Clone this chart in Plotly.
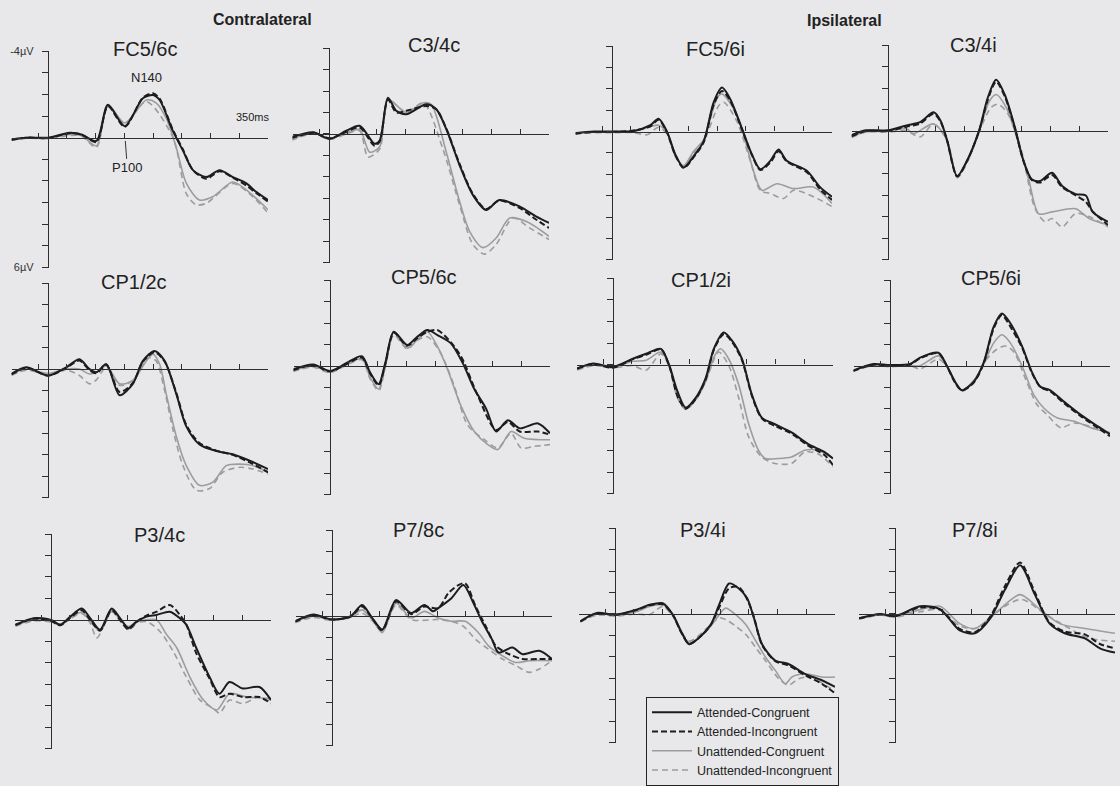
import plotly.graph_objects as go

# ---------------- data: time (ms) and amplitude (uV, negative up) ----------------
CONDITIONS = ["Attended-Congruent", "Attended-Incongruent", "Unattended-Congruent", "Unattended-Incongruent"]
PANEL_NAMES = ["FC5/6c", "C3/4c", "FC5/6i", "C3/4i",
               "CP1/2c", "CP5/6c", "CP1/2i", "CP5/6i",
               "P3/4c", "P7/8c", "P3/4i", "P7/8i"]
Y_TICKS = [-4, -3, -2, -1, 0, 1, 2, 3, 4, 5, 6]
Y_TICK_LABELS = ["-4µV", "", "", "", "", "", "", "", "", "", "6µV"]
X_LABEL = "350ms"

# FC5/6c
FC56c_AC_t = [-58, -34.5, 0, 34.5, 53, 77, 95.4, 122, 151, 167, 177.6, 198.8, 214.7, 230.6, 251.8, 273, 294, 315, 331, 350]
FC56c_AC_v = [0.08, 0, 0, -0.23, -0.15, 0.15, -1.52, -0.53, -1.82, -1.97, -1.74, -0.3, 0.6, 1.5, 1.82, 1.5, 1.82, 2.1, 2.5, 2.88]
FC56c_AI_t = [-58, -34.5, 0, 34.5, 53, 77, 95.4, 122, 151, 167, 177.6, 198.8, 214.7, 230.6, 251.8, 273, 294, 315, 331, 350]
FC56c_AI_v = [0.1, 0, 0.02, -0.2, -0.15, 0.2, -1.45, -0.5, -1.85, -2.05, -1.8, -0.35, 0.55, 1.5, 1.9, 1.55, 1.85, 2.2, 2.55, 2.95]
FC56c_UC_t = [-58, -34.5, 0, 34.5, 53, 77, 95.4, 122, 156.4, 172.3, 188, 204, 220, 241, 262, 294, 315, 350]
FC56c_UC_v = [0.1, 0.02, 0.02, -0.15, -0.1, 0.38, -1.52, -0.68, -1.74, -1.6, -0.9, 0.45, 2.1, 2.88, 2.73, 2.05, 2.4, 3.33]
FC56c_UI_t = [-58, -34.5, 0, 34.5, 53, 77, 95.4, 122, 156.4, 198.8, 220, 235.5, 252, 294, 326, 350]
FC56c_UI_v = [0.12, 0.02, 0.05, -0.1, -0.08, 0.45, -1.45, -0.65, -1.67, 0, 2.58, 3.1, 3.03, 2.12, 2.73, 3.48]

# C3/4c
C34c_AC_t = [-60, -25, 1, 27.6, 48.8, 72.6, 80.6, 93.8, 107, 123, 154.8, 170.7, 186.6, 207.8, 229, 250, 271, 303, 330, 350]
C34c_AC_v = [0.15, -0.08, 0.23, -0.15, -0.38, 0.46, 0.31, -1.69, -1.08, -0.92, -1.38, -1.15, -0.23, 1.46, 2.85, 3.54, 3.08, 3.38, 3.85, 4.15]
C34c_AI_t = [-60, -25, 1, 27.6, 48.8, 72.6, 80.6, 93.8, 107, 123, 154.8, 170.7, 186.6, 207.8, 229, 250, 271, 303, 330, 350]
C34c_AI_v = [0.2, -0.05, 0.2, -0.1, -0.3, 0.55, 0.35, -1.6, -1.0, -1.08, -1.3, -1.15, -0.25, 1.4, 2.8, 3.5, 3.1, 3.45, 4.0, 4.38]
C34c_UC_t = [-60, -25, 1, 27.6, 48.8, 64.7, 80.6, 93.8, 123, 150, 162.6, 186.6, 207.8, 223.7, 245, 266, 287.5, 314, 350]
C34c_UC_v = [0.25, -0.05, 0.2, -0.05, -0.2, 0.85, 0.6, -1.6, -1.0, -1.45, -1.38, 0.85, 3.15, 4.54, 5.3, 4.85, 3.92, 4.08, 4.77]
C34c_UI_t = [-60, -25, 1, 27.6, 48.8, 62, 80.6, 93.8, 123, 150, 181, 207.8, 229, 247.6, 266, 292.6, 319, 350]
C34c_UI_v = [0.3, 0, 0.25, 0, -0.15, 1.08, 0.7, -1.6, -1.0, -1.45, 0.69, 3.31, 5.15, 5.6, 5.15, 3.92, 4.38, 4.92]

# FC5/6i
FC56i_AC_t = [-58.3, -29, 0, 34.5, 61, 74, 87.5, 100.7, 114, 129.9, 145.8, 161.7, 175, 188, 206.7, 222.6, 236, 251.8, 265, 278, 310, 331, 350]
FC56i_AC_v = [0.08, 0, 0, -0.03, -0.3, -0.6, 0, 1.07, 1.68, 1.15, 0.46, -1.37, -2.06, -1.53, -0.15, 1.07, 1.76, 1.37, 0.84, 1.37, 1.83, 2.6, 3.05]
FC56i_AI_t = [-58.3, -29, 0, 34.5, 61, 74, 87.5, 100.7, 114, 129.9, 145.8, 161.7, 175, 188, 206.7, 222.6, 236, 251.8, 265, 278, 310, 331, 350]
FC56i_AI_v = [0.1, 0.02, 0.02, -0.05, -0.25, -0.55, 0.05, 1.1, 1.7, 1.2, 0.5, -1.25, -1.9, -1.45, -0.1, 1.1, 1.8, 1.45, 0.92, 1.4, 1.9, 2.7, 3.2]
FC56i_UC_t = [-58.3, -29, 0, 34.5, 61, 74, 87.5, 100.7, 114, 129.9, 145.8, 167.5, 175, 193.5, 209.4, 225, 238.5, 262.5, 289, 320.6, 350]
FC56i_UC_v = [0.05, 0.02, 0.02, 0, -0.23, -0.3, 0.05, 1.15, 1.6, 0.92, 0.38, -1.6, -1.76, -1.07, 0.15, 1.83, 2.75, 2.44, 2.67, 2.6, 3.36]
FC56i_UI_t = [-58.3, -29, 0, 34.5, 55.7, 74, 87.5, 100.7, 114, 129.9, 145.8, 170, 178, 199, 220, 236, 251.8, 273, 289, 320.6, 350]
FC56i_UI_v = [0.1, 0.05, 0.05, 0.05, 0.15, -0.2, 0.1, 1.15, 1.6, 1.0, 0.46, -1.22, -1.37, -0.46, 1.37, 2.75, 2.9, 3.13, 2.75, 3.05, 3.51]

# C3/4i
C34i_AC_t = [-58, -35, 0, 29.6, 51, 72.6, 83.4, 94, 110, 126.4, 145, 158.7, 172, 185.6, 201.8, 215, 228.7, 242, 261, 277, 298.6, 314.7, 325.5, 350]
C34i_AC_v = [0.2, -0.03, -0.03, -0.26, -0.41, -0.87, -0.49, 0.43, 2.1, 1.34, -0.03, -1.55, -2.39, -1.7, -0.18, 1.34, 2.25, 2.33, 1.95, 2.56, 2.94, 3.01, 3.77, 4.23]
C34i_AI_t = [-58, -35, 0, 29.6, 51, 72.6, 83.4, 94, 110, 126.4, 145, 158.7, 172, 185.6, 201.8, 215, 228.7, 242, 261, 277, 298.6, 314.7, 325.5, 350]
C34i_AI_v = [0.25, 0, 0, -0.2, -0.35, -0.8, -0.45, 0.45, 2.12, 1.36, 0, -1.45, -2.3, -1.62, -0.12, 1.36, 2.28, 2.4, 2.05, 2.62, 3.0, 3.3, 3.75, 4.38]
C34i_UC_t = [-58, -35, 0, 29.6, 40.4, 72.6, 94, 110, 126.4, 145, 161.4, 172, 188, 207.8, 223.8, 240, 261, 298.6, 320, 350]
C34i_UC_v = [0.25, 0.05, 0, -0.1, 0.12, -0.33, 0.43, 2.1, 1.4, 0, -1.4, -1.7, -1.1, 0.58, 2.25, 3.86, 3.77, 3.62, 4.08, 4.38]
C34i_UI_t = [-58, -35, 0, 29.6, 51.2, 72.6, 94, 110, 126.4, 145, 164, 175, 191, 212, 234, 250, 261, 277, 298.6, 320, 350]
C34i_UI_v = [0.3, 0.05, 0.05, 0, 0.28, -0.33, 0.45, 2.18, 1.45, 0.05, -1.1, -1.25, -0.79, 0.88, 3.62, 4.23, 4.08, 4.47, 3.84, 3.99, 4.47]

# CP1/2c
CP12c_AC_t = [-58.3, -34.5, 0, 29, 50, 66, 77, 92.8, 114, 135, 151, 169.6, 185.5, 204, 220, 241, 267.7, 294, 320.7, 350]
CP12c_AC_v = [0.23, -0.08, 0.31, -0.08, -0.46, 0, 0.15, -0.23, 1.22, 0.69, -0.38, -0.84, -0.38, 1.15, 2.67, 3.51, 3.82, 3.97, 4.27, 4.66]
CP12c_AI_t = [-58.3, -34.5, 0, 29, 50, 66, 77, 92.8, 114, 135, 151, 169.6, 185.5, 204, 220, 241, 267.7, 294, 320.7, 350]
CP12c_AI_v = [0.25, -0.05, 0.3, -0.05, -0.4, 0.05, 0.2, -0.2, 1.07, 0.65, -0.35, -0.78, -0.35, 1.1, 2.6, 3.45, 3.8, 4.0, 4.35, 4.81]
CP12c_UC_t = [-58.3, -34.5, 0, 29, 50, 66, 77, 92.8, 114, 135, 156.4, 167, 177.6, 188, 204, 220, 241, 262.4, 283.6, 305, 326, 350]
CP12c_UC_v = [0.25, 0, 0.2, 0, 0, 0.23, 0.15, -0.15, 0.69, 0.53, -0.38, -0.69, -0.23, 1.15, 3.13, 4.5, 5.42, 5.27, 4.5, 4.43, 4.5, 4.81]
CP12c_UI_t = [-58.3, -34.5, 0, 29, 50, 66, 77, 92.8, 114, 135, 159, 172, 185.5, 198.8, 214.7, 236, 257, 278, 305, 326, 350]
CP12c_UI_v = [0.3, 0.05, 0.25, 0.05, 0.3, 0.69, 0.5, -0.08, 0.76, 0.53, -0.53, -0.38, 1.0, 2.82, 4.5, 5.65, 5.57, 4.81, 4.58, 4.66, 4.89]

# CP5/6c
CP56c_AC_t = [-58.7, -26.7, 0, 26.7, 50.7, 64, 77.4, 88, 101.5, 122.8, 138.8, 154.9, 170.9, 192, 211, 229.6, 248.3, 264.3, 283, 301.7, 331, 350]
CP56c_AC_v = [0.15, -0.08, 0.23, -0.15, -0.46, 0.31, 0.84, -0.15, -1.6, -0.99, -1.37, -1.68, -1.45, -1.07, -0.15, 1.07, 1.98, 3.05, 2.52, 2.9, 2.67, 3.13]
CP56c_AI_t = [-58.7, -26.7, 0, 26.7, 50.7, 64, 77.4, 88, 101.5, 122.8, 138.8, 154.9, 170.9, 197.6, 211, 235, 264.3, 283, 301.7, 331, 350]
CP56c_AI_v = [0.2, -0.05, 0.25, -0.1, -0.4, 0.35, 0.9, -0.1, -1.55, -0.95, -1.3, -1.6, -1.68, -0.92, -0.31, 1.37, 2.98, 2.6, 3.05, 3.05, 3.2]
CP56c_UC_t = [-58.7, -26.7, 0, 26.7, 50.7, 64, 77.4, 88, 101.5, 122.8, 138.8, 154.9, 170.9, 187, 208, 229.6, 251, 267, 288, 309, 350]
CP56c_UC_v = [0.2, 0, 0.25, -0.1, -0.35, 0.53, 1.07, 0, -1.6, -0.84, -1.22, -1.6, -0.92, 0.15, 1.83, 3.05, 3.66, 3.89, 3.05, 3.36, 3.43]
CP56c_UI_t = [-58.7, -26.7, 0, 26.7, 50.7, 64, 77.4, 88, 101.5, 122.8, 138.8, 154.9, 176, 197.6, 219, 245.6, 267, 288, 304, 325, 350]
CP56c_UI_v = [0.25, 0.05, 0.3, -0.05, -0.3, 0.6, 1.15, 0.05, -1.45, -0.8, -1.2, -1.37, -0.61, 0.92, 2.75, 3.43, 3.81, 3.13, 3.82, 3.74, 3.66]

# CP1/2i
CP12i_AC_t = [-57, -31.6, 0, 31.6, 52.6, 76.3, 89.4, 102.6, 115.7, 131.5, 147.3, 160.4, 176.2, 189.4, 205, 221, 236.7, 257.7, 284, 310, 336.6, 350]
CP12i_AC_v = [0.18, -0.05, 0.11, -0.27, -0.5, -0.73, 0.03, 1.25, 2.0, 1.55, 0.64, -0.73, -1.49, -1.11, -0.27, 1.4, 2.46, 2.77, 3.15, 3.68, 4.06, 4.36]
CP12i_AI_t = [-57, -31.6, 0, 31.6, 52.6, 76.3, 89.4, 102.6, 115.7, 131.5, 147.3, 160.4, 176.2, 189.4, 205, 221, 236.7, 257.7, 284, 310, 336.6, 350]
CP12i_AI_v = [0.2, -0.03, 0.15, -0.25, -0.45, -0.7, 0.05, 1.48, 2.05, 1.6, 0.7, -0.68, -1.41, -1.05, -0.22, 1.45, 2.5, 2.85, 3.2, 3.75, 4.2, 4.67]
CP12i_UC_t = [-57, -31.6, 0, 31.6, 52.6, 76.3, 89.4, 102.6, 115.7, 131.5, 147.3, 162, 171, 184, 200, 216, 231.5, 242, 263, 284, 305, 326, 350]
CP12i_UC_v = [0.2, 0, 0.1, -0.15, -0.2, -0.58, 0.05, 1.48, 2.0, 1.63, 0.79, -0.43, -0.73, -0.27, 0.94, 2.77, 3.98, 4.36, 4.36, 4.29, 3.98, 3.98, 4.36]
CP12i_UI_t = [-57, -31.6, 0, 31.6, 52.6, 76.3, 89.4, 102.6, 115.7, 131.5, 147.3, 168, 184, 200, 216, 236.7, 257.7, 284, 305, 326, 350]
CP12i_UI_v = [0.25, 0.05, 0.15, 0.05, 0.26, -0.5, 0.1, 1.55, 2.08, 1.65, 0.79, -0.58, 0.03, 1.55, 3.37, 4.29, 4.59, 4.59, 4.06, 4.14, 4.74]

# CP5/6i
CP56i_AC_t = [-58.5, -26.6, 0, 32, 47.9, 77, 90.4, 103.7, 114.4, 133, 149, 165, 178, 191.5, 210, 226, 239.4, 255, 276.6, 303, 330, 350]
CP56i_AC_v = [0.23, -0.08, -0.03, -0.08, -0.38, -0.61, 0, 0.76, 1.15, 0.76, -0.15, -1.83, -2.45, -1.99, -0.92, 0.31, 0.99, 1.15, 1.68, 2.29, 2.83, 3.21]
CP56i_AI_t = [-58.5, -26.6, 0, 32, 47.9, 77, 90.4, 103.7, 114.4, 133, 149, 165, 178, 191.5, 210, 226, 239.4, 255, 276.6, 303, 330, 350]
CP56i_AI_v = [0.25, -0.05, 0, -0.05, -0.35, -0.58, 0.02, 0.8, 1.15, 0.8, -0.1, -1.75, -2.37, -1.83, -0.85, 0.35, 1.0, 1.2, 1.75, 2.35, 2.9, 3.3]
CP56i_UC_t = [-58.5, -26.6, 0, 32, 47.9, 77, 90.4, 103.7, 114.4, 133, 149, 165, 178, 191.5, 210, 229, 245, 266.6, 293, 319.2, 350]
CP56i_UC_v = [0.2, -0.05, 0, 0, 0, -0.46, 0, 0.76, 1.15, 0.69, -0.08, -1.07, -1.45, -1.07, 0, 1.38, 1.99, 2.45, 2.6, 2.9, 3.13]
CP56i_UI_t = [-58.5, -26.6, 0, 32, 47.9, 77, 90.4, 103.7, 114.4, 133, 154, 170, 184.5, 197.9, 215.5, 234, 250, 271.5, 293, 325, 350]
CP56i_UI_v = [0.25, 0, 0.05, 0, 0.15, -0.31, 0.05, 0.84, 1.2, 0.76, -0.31, -0.77, -0.92, -0.61, 0.61, 1.83, 2.29, 2.9, 2.68, 2.9, 3.21]

# P3/4c
P34c_AC_t = [-56.5, -27.5, 0, 14.8, 30.6, 49, 62.3, 78, 96.6, 109.8, 123, 136, 152, 168, 189, 205, 215.4, 231, 252.4, 268, 284, 305, 331.6, 350]
P34c_AC_v = [0.23, -0.08, 0, 0.23, -0.15, -0.53, -0.08, 0.46, -0.53, -0.08, 0.38, 0.08, -0.15, -0.23, -0.38, -0.08, 0.23, 1.3, 2.67, 3.44, 2.9, 3.2, 3.13, 3.74]
P34c_AI_t = [-56.5, -27.5, 0, 14.8, 30.6, 49, 62.3, 78, 96.6, 109.8, 123, 136, 152, 168, 189, 205, 215.4, 231, 252.4, 268, 284, 305, 331.6, 350]
P34c_AI_v = [0.25, -0.05, 0.05, 0.25, -0.1, -0.45, 0, 0.5, -0.45, 0, 0.45, 0.1, -0.2, -0.38, -0.69, -0.23, 0.23, 1.55, 2.75, 3.6, 3.44, 3.6, 3.6, 3.9]
P34c_UC_t = [-56.5, -27.5, 0, 14.8, 30.6, 49, 62.3, 78, 96.6, 109.8, 123, 136, 152, 168, 184, 200, 221, 242.6, 263.7, 284, 311, 350]
P34c_UC_v = [0.25, 0, 0.05, 0.2, -0.1, -0.35, 0.05, 0.53, -0.46, 0, 0.31, 0.1, 0, 0, 0.69, 1.3, 2.67, 3.74, 4.2, 3.44, 3.59, 3.67]
P34c_UI_t = [-56.5, -27.5, 0, 14.8, 30.6, 49, 62.3, 73, 96.6, 109.8, 126, 136, 152, 173, 194, 215.4, 237, 258, 268, 284, 305, 331.6, 350]
P34c_UI_v = [0.3, 0.05, 0.1, 0.25, -0.05, -0.3, 0.15, 0.84, -0.38, 0.05, 0.46, 0.15, 0.08, 0.53, 1.45, 2.67, 3.74, 4.12, 4.35, 3.74, 3.9, 3.59, 3.82]

# P7/8c
P78c_AC_t = [-59, -29.5, 0, 29.5, 48, 64, 80, 102, 126, 147, 161, 169, 190, 209, 225, 238.5, 254.6, 265, 287, 303, 329.6, 350]
P78c_AC_v = [0.23, -0.08, 0.15, 0, -0.53, 0.08, 0.61, -0.76, -0.15, -0.53, -0.23, -0.38, -0.84, -1.45, -0.61, 0.23, 1.07, 1.68, 1.45, 1.76, 1.6, 1.98]
P78c_AI_t = [-59, -29.5, 0, 29.5, 48, 64, 80, 102, 126, 147, 169, 185, 201, 212, 228.5, 244.6, 260.6, 282, 303, 329.6, 350]
P78c_AI_v = [0.25, -0.05, 0.15, 0.02, -0.45, 0.1, 0.65, -0.69, -0.1, -0.45, -0.38, -1.07, -1.45, -1.53, -0.46, 0.46, 1.37, 1.76, 1.98, 1.98, 1.98]
P78c_UC_t = [-59, -29.5, 0, 29.5, 48, 64, 80, 102, 126, 147, 169, 190, 212, 233, 249, 271, 292.6, 314, 350]
P78c_UC_v = [0.25, 0, 0.15, 0, -0.3, 0.15, 0.76, -0.61, 0.08, -0.23, 0.08, 0.23, 0.23, 0.76, 1.37, 1.83, 2.14, 2.06, 2.06]
P78c_UI_t = [-59, -29.5, 0, 29.5, 48, 64, 80, 102, 126, 169, 190, 209, 228.5, 249, 271, 292.6, 314, 330, 350]
P78c_UI_v = [0.3, 0.05, 0.2, 0.05, -0.15, 0.2, 0.69, -0.53, 0.15, 0.15, 0.23, 0.46, 1.07, 1.53, 1.98, 2.29, 2.6, 2.44, 2.06]

# P3/4i
P34i_AC_t = [-55, -29, 0, 34, 55, 76, 92, 105, 118, 134, 152.5, 165.7, 181.5, 197, 210, 221, 234, 255, 276, 302, 329, 350]
P34i_AC_v = [0.34, -0.05, 0.03, -0.2, -0.43, -0.5, 0.03, 0.8, 1.41, 1.1, 0.49, -0.43, -1.42, -1.19, -0.74, 0.18, 1.41, 2.17, 2.33, 2.79, 3.09, 3.4]
P34i_AI_t = [-55, -29, 0, 34, 55, 76, 92, 105, 118, 134, 152.5, 165.7, 181.5, 197, 210, 221, 234, 255, 276, 302, 329, 350]
P34i_AI_v = [0.35, -0.03, 0.05, -0.18, -0.4, -0.45, 0.05, 0.84, 1.4, 1.1, 0.5, -0.3, -1.2, -1.25, -0.7, 0.15, 1.45, 2.2, 2.4, 2.85, 3.25, 3.7]
P34i_UC_t = [-55, -29, 0, 34, 55, 76, 92, 105, 118, 134, 152.5, 165.7, 176, 192, 208, 224, 239.5, 255, 271, 281.5, 302, 329, 350]
P34i_UC_v = [0.34, 0, 0.05, -0.1, -0.35, -0.43, 0.05, 0.87, 1.33, 1.1, 0.57, 0.03, -0.27, 0.03, 0.49, 1.26, 2.02, 2.63, 3.25, 2.94, 2.79, 2.94, 2.94]
P34i_UI_t = [-55, -29, 0, 34, 55, 76, 92, 118, 152.5, 165.7, 176, 192, 208, 224, 239.5, 260.6, 276, 292, 313, 334, 350]
P34i_UI_v = [0.38, 0.05, 0.1, 0, 0.03, -0.35, 0.1, 1.26, 0.49, 0.18, 0.26, 0.57, 0.95, 1.57, 2.18, 3.02, 3.32, 3.02, 2.94, 3.32, 3.55]

# P7/8i
P78i_AC_t = [-57, -24, 0, 40, 71.6, 103, 127, 151, 175, 199, 222.6, 246, 270, 302, 326, 350]
P78i_AC_v = [0.2, 0, 0.1, -0.36, -0.23, 0.77, 0.9, 0.23, -1.14, -2.27, -0.9, 0.45, 0.9, 1.14, 1.6, 1.8]
P78i_AI_t = [-57, -24, 0, 40, 71.6, 103, 127, 151, 175, 199, 222.6, 246, 270, 302, 326, 350]
P78i_AI_v = [0.2, 0.02, 0.1, -0.3, -0.2, 0.7, 0.85, 0.15, -1.3, -2.4, -1.0, 0.4, 0.82, 0.95, 1.4, 1.6]
P78i_UC_t = [-57, -24, 0, 40, 71.6, 103, 127, 167, 199, 230, 262, 302, 350]
P78i_UC_v = [0.2, 0.05, 0.1, -0.2, -0.36, 0.45, 0.68, -0.23, -0.9, -0.23, 0.45, 0.68, 0.9]
P78i_UI_t = [-57, -24, 0, 40, 71.6, 103, 127, 175, 202, 238.5, 278, 310, 350]
P78i_UI_v = [0.25, 0.05, 0.15, -0.1, -0.2, 0.55, 0.68, -0.36, -0.68, 0, 0.68, 1.14, 1.27]

PANEL_SERIES = [
    [(FC56c_AC_t, FC56c_AC_v), (FC56c_AI_t, FC56c_AI_v), (FC56c_UC_t, FC56c_UC_v), (FC56c_UI_t, FC56c_UI_v)],
    [(C34c_AC_t, C34c_AC_v), (C34c_AI_t, C34c_AI_v), (C34c_UC_t, C34c_UC_v), (C34c_UI_t, C34c_UI_v)],
    [(FC56i_AC_t, FC56i_AC_v), (FC56i_AI_t, FC56i_AI_v), (FC56i_UC_t, FC56i_UC_v), (FC56i_UI_t, FC56i_UI_v)],
    [(C34i_AC_t, C34i_AC_v), (C34i_AI_t, C34i_AI_v), (C34i_UC_t, C34i_UC_v), (C34i_UI_t, C34i_UI_v)],
    [(CP12c_AC_t, CP12c_AC_v), (CP12c_AI_t, CP12c_AI_v), (CP12c_UC_t, CP12c_UC_v), (CP12c_UI_t, CP12c_UI_v)],
    [(CP56c_AC_t, CP56c_AC_v), (CP56c_AI_t, CP56c_AI_v), (CP56c_UC_t, CP56c_UC_v), (CP56c_UI_t, CP56c_UI_v)],
    [(CP12i_AC_t, CP12i_AC_v), (CP12i_AI_t, CP12i_AI_v), (CP12i_UC_t, CP12i_UC_v), (CP12i_UI_t, CP12i_UI_v)],
    [(CP56i_AC_t, CP56i_AC_v), (CP56i_AI_t, CP56i_AI_v), (CP56i_UC_t, CP56i_UC_v), (CP56i_UI_t, CP56i_UI_v)],
    [(P34c_AC_t, P34c_AC_v), (P34c_AI_t, P34c_AI_v), (P34c_UC_t, P34c_UC_v), (P34c_UI_t, P34c_UI_v)],
    [(P78c_AC_t, P78c_AC_v), (P78c_AI_t, P78c_AI_v), (P78c_UC_t, P78c_UC_v), (P78c_UI_t, P78c_UI_v)],
    [(P34i_AC_t, P34i_AC_v), (P34i_AI_t, P34i_AI_v), (P34i_UC_t, P34i_UC_v), (P34i_UI_t, P34i_UI_v)],
    [(P78i_AC_t, P78i_AC_v), (P78i_AI_t, P78i_AI_v), (P78i_UC_t, P78i_UC_v), (P78i_UI_t, P78i_UI_v)],
]

# ---------------- layout geometry (pixels in the 1120x786 page) ----------------
W, H = 1120, 786
X_MIN, X_MAX = -58, 350
PX_PER_MS = 220 / 350.0
# (y-axis x position, top of y-axis, bottom of y-axis)
GEOM = [(48, 46, 267), (329, 43, 262), (612, 41, 259), (888, 40, 259),
        (48, 283, 502), (330, 280, 499), (613, 278, 498), (890, 280, 498),
        (51, 539, 758), (332, 535, 755), (615, 533, 752), (895, 533, 752)]
TITLE_POS = [(145, 44), (434, 40), (715, 44), (973, 40),
             (134, 282), (424, 277), (701, 280), (991, 278),
             (159, 540), (418, 535), (703, 535), (975, 535)]

STYLES = [dict(color="#1c1c1c", width=2.0, dash="solid"),
          dict(color="#1c1c1c", width=2.0, dash="6px,3px"),
          dict(color="#9c9c9c", width=1.6, dash="solid"),
          dict(color="#9c9c9c", width=1.6, dash="6px,4px")]
DRAW_ORDER = [3, 2, 1, 0]
FONT = "Liberation Sans, Arial, Helvetica, sans-serif"
AXIS_COLOR = "#2e2e2e"
BG = "#e8e8ea"

fig = go.Figure()
layout = {}
annotations = []

for i, name in enumerate(PANEL_NAMES):
    k = "" if i == 0 else str(i + 1)
    yax_px, top_px, bot_px = GEOM[i]
    left_px = yax_px + X_MIN * PX_PER_MS
    right_px = yax_px + X_MAX * PX_PER_MS
    xd = [left_px / W, right_px / W]
    yd = [1 - bot_px / H, 1 - top_px / H]
    zero_frac = yd[0] + (6 - 0) / 10.0 * (yd[1] - yd[0])

    layout["xaxis" + k] = dict(
        domain=xd, range=[X_MIN, X_MAX], anchor="free", position=zero_frac,
        showgrid=False, zeroline=False, showline=True, linecolor=AXIS_COLOR, linewidth=1.3,
        ticks="inside", ticklen=5, tickwidth=1.3, tickcolor=AXIS_COLOR,
        tickmode="linear", tick0=350, dtick=45.7, showticklabels=False, fixedrange=True,
    )
    layout["yaxis" + k] = dict(
        domain=yd, range=[6, -4], anchor="free", position=yax_px / W,
        showgrid=False, zeroline=False, showline=True, linecolor=AXIS_COLOR, linewidth=1.4,
        ticks="outside", ticklen=6, tickwidth=1.3, tickcolor=AXIS_COLOR,
        tickmode="array", tickvals=Y_TICKS,
        ticktext=Y_TICK_LABELS if i == 0 else [""] * len(Y_TICKS),
        showticklabels=(i == 0), ticklabelstandoff=6,
        tickfont=dict(family=FONT, size=11, color="#333"), fixedrange=True,
    )

    for c in DRAW_ORDER:
        t, v = PANEL_SERIES[i][c]
        st = STYLES[c]
        fig.add_trace(go.Scatter(
            x=t, y=v, mode="lines", name=CONDITIONS[c],
            line=dict(color=st["color"], width=st["width"], dash=st["dash"],
                      shape="spline", smoothing=0.8),
            xaxis="x" + k, yaxis="y" + k,
            showlegend=(i == 0), legendrank=c + 1, hoverinfo="skip",
        ))

    tx, ty = TITLE_POS[i]
    annotations.append(dict(text=name, x=tx / W, y=1 - ty / H, xref="paper", yref="paper",
                            xanchor="center", yanchor="middle", showarrow=False,
                            font=dict(family=FONT, size=20, color="#222")))

# panel-1 labels and group headers
annotations += [
    dict(text="N140", x=157, y=-2.8, xref="x", yref="y", xanchor="center", yanchor="middle",
         showarrow=False, font=dict(family=FONT, size=13, color="#222")),
    dict(text="P100", x=123, y=0.15, xref="x", yref="y", ax=2, ay=27,
         showarrow=True, arrowhead=0, arrowwidth=1, arrowcolor="#333", standoff=0,
         font=dict(family=FONT, size=13, color="#222")),
    dict(text=X_LABEL, x=350, y=-0.95, xref="x", yref="y", xanchor="right", yanchor="middle",
         xshift=4, showarrow=False, font=dict(family=FONT, size=11, color="#222")),
    dict(text="<b>Contralateral</b>", x=262 / W, y=1 - 14 / H, xref="paper", yref="paper",
         xanchor="center", yanchor="middle",
         showarrow=False, font=dict(family=FONT, size=16, color="#222")),
    dict(text="<b>Ipsilateral</b>", x=844 / W, y=1 - 15 / H, xref="paper", yref="paper",
         xanchor="center", yanchor="middle",
         showarrow=False, font=dict(family=FONT, size=16, color="#222")),
]

fig.update_layout(
    width=W, height=H, margin=dict(l=0, r=0, t=0, b=0),
    paper_bgcolor=BG, plot_bgcolor="rgba(0,0,0,0)",
    font=dict(family=FONT, color="#222"),
    annotations=annotations,
    legend=dict(x=646 / W, y=1 - 705 / H, xanchor="left", yanchor="top",
                bgcolor="rgba(0,0,0,0)", bordercolor="#222", borderwidth=1,
                font=dict(family=FONT, size=12.5, color="#222"), traceorder="normal",
                itemwidth=40, tracegroupgap=0),
    **layout,
)

fig.write_html("out.html", config={"displayModeBar": False},
               post_script="document.body.style.margin='0';document.body.style.background='%s';" % BG)
